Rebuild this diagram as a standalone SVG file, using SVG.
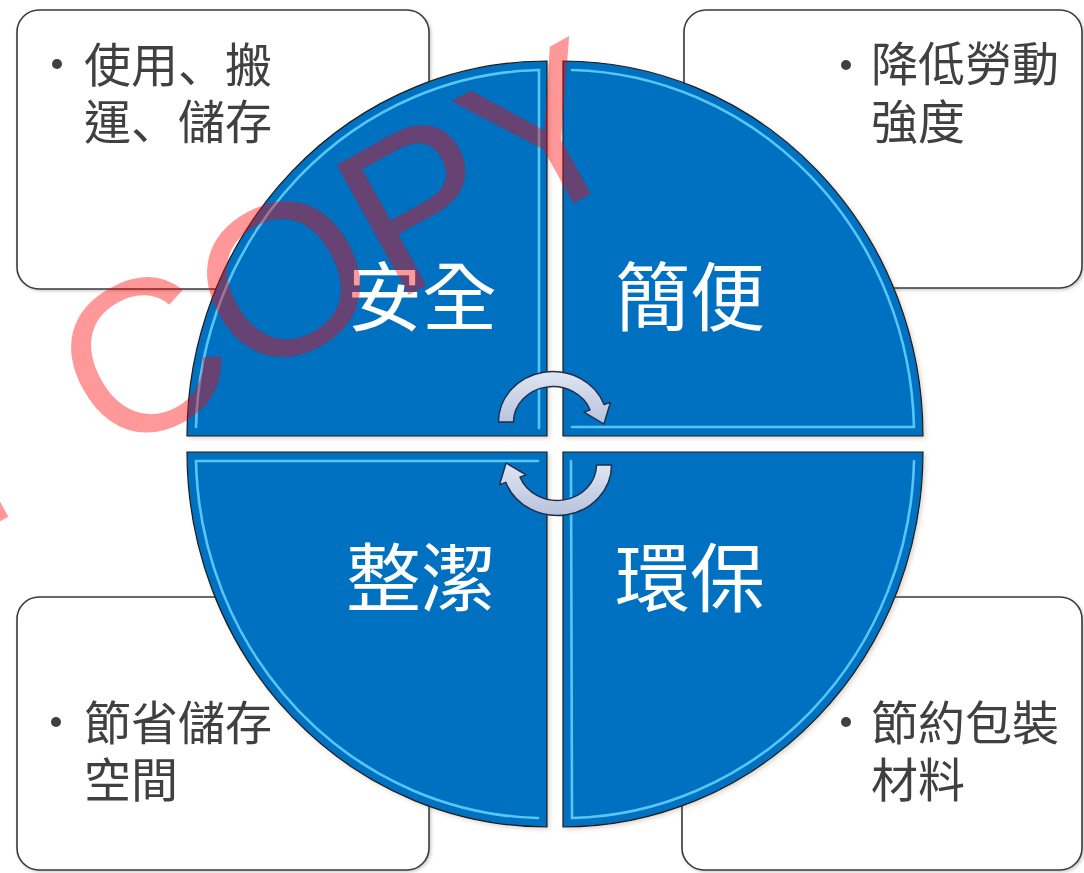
<svg xmlns="http://www.w3.org/2000/svg" width="1084" height="873" viewBox="0 0 1084 873">
  <defs>
    <style>
      .box { fill: #ffffff; stroke: #3a3a3a; stroke-width: 1.6; }
      .btxt { font-family: "Noto Sans CJK TC", "Noto Sans CJK JP", sans-serif; font-size: 47px; fill: #404040; }
      .jp { font-family: "Noto Sans CJK JP", "Noto Sans CJK TC", sans-serif; }
      .dot { fill: #404040; }
      .quad { fill: #0070C0; stroke: #1c1c1c; stroke-width: 1.2; }
      .hl { fill: none; stroke: #5CCBF8; stroke-width: 2.6; stroke-linecap: round; opacity: 0.95; }
      .lbl { font-family: "Noto Sans CJK TC", "Noto Sans CJK JP", sans-serif; font-size: 75px; fill: #ffffff; text-anchor: middle; }
      .arrow { fill: url(#arrowGrad); stroke: #1f2d4a; stroke-width: 1.4; stroke-linejoin: round; }
      .wm { font-family: "Liberation Sans", Arial, sans-serif; font-size: 216px; fill: #ff0000; fill-opacity: 0.4; font-kerning: none; }
    </style>
    <linearGradient id="arrowGrad" x1="0" y1="0" x2="0" y2="1">
      <stop offset="0" stop-color="#dfe5f2"/>
      <stop offset="1" stop-color="#b7c3dd"/>
    </linearGradient>
    <filter id="shadow" x="-10%" y="-10%" width="120%" height="120%">
      <feDropShadow dx="2" dy="2" stdDeviation="2" flood-color="#7a5a3a" flood-opacity="0.25"/>
    </filter>
    <filter id="boxShadow" x="-5%" y="-5%" width="110%" height="110%">
      <feDropShadow dx="1.5" dy="1.5" stdDeviation="1.5" flood-color="#000" flood-opacity="0.2"/>
    </filter>
  </defs>

  <rect width="1084" height="873" fill="#ffffff"/>

  <!-- Text boxes -->
  <g id="box-top-left" filter="url(#boxShadow)">
    <rect class="box" x="17" y="10" width="412" height="279" rx="22"/>
    <circle class="dot" cx="57" cy="64" r="5"/>
    <text class="btxt" x="84" y="82">使用<tspan class="jp">、</tspan>搬</text>
    <text class="btxt" x="84" y="139">運<tspan class="jp">、</tspan>儲存</text>
  </g>
  <g id="box-top-right" filter="url(#boxShadow)">
    <rect class="box" x="684" y="10" width="398" height="278" rx="22"/>
    <circle class="dot" cx="846" cy="65" r="5"/>
    <text class="btxt" x="871" y="81">降低勞動</text>
    <text class="btxt" x="871" y="139">強度</text>
  </g>
  <g id="box-bottom-left" filter="url(#boxShadow)">
    <rect class="box" x="17" y="597" width="412" height="273" rx="22"/>
    <circle class="dot" cx="56" cy="722" r="5"/>
    <text class="btxt" x="84" y="740">節省儲存</text>
    <text class="btxt" x="84" y="797">空間</text>
  </g>
  <g id="box-bottom-right" filter="url(#boxShadow)">
    <rect class="box" x="682" y="597" width="400" height="273" rx="22"/>
    <circle class="dot" cx="846" cy="722" r="5"/>
    <text class="btxt" x="871" y="740">節約包裝</text>
    <text class="btxt" x="871" y="797">材料</text>
  </g>

  <!-- Quadrants -->
  <g id="quad-safety" filter="url(#shadow)">
    <path class="quad" d="M547,436 L187,436 A360,375 0 0 1 547,61 Z"/>
    <path class="hl" d="M196,427 A351,366 0 0 1 539,70 L539,428"/>
    <text class="lbl" x="422" y="325">安全</text>
  </g>
  <g id="quad-simple" filter="url(#shadow)">
    <path class="quad" d="M563,436 L563,61 A360,375 0 0 1 923,436 Z"/>
    <path class="hl" d="M572,70 A351,366 0 0 1 914,427 L572,427"/>
    <text class="lbl" x="690" y="325">簡便</text>
  </g>
  <g id="quad-eco" filter="url(#shadow)">
    <path class="quad" d="M563,452 L923,452 A360,375 0 0 1 563,827 Z"/>
    <path class="hl" d="M914,461 A351,366 0 0 1 572,818 L571,461"/>
    <text class="lbl" x="690" y="606">環保</text>
  </g>
  <g id="quad-clean" filter="url(#shadow)">
    <path class="quad" d="M547,452 L547,827 A360,375 0 0 1 187,452 Z"/>
    <path class="hl" d="M538,818 A351,366 0 0 1 196,461 L538,461"/>
    <text class="lbl" x="421" y="606">整潔</text>
  </g>

  <!-- Cycle arrows -->
  <g id="connectors">
    <path class="arrow" d="M498.5,422 A54.5,50.5 0 0 1 604.2,404.7 L610.4,402.4 L603.9,424 L584,412.2 L590.1,409.9 A39.5,35.5 0 0 0 513.5,422 Z"/>
    <path class="arrow" d="M611.5,465 A54.5,50.5 0 0 1 505.8,482.3 L499.6,484.6 L506.1,463 L526,474.8 L519.9,477.1 A39.5,35.5 0 0 0 596.5,465 Z"/>
  </g>

  <!-- Watermark -->
  <g id="watermark">
    <text class="wm" transform="translate(110 460.5) rotate(-29)" x="-900" y="0">DO NOT COPY</text>
  </g>
</svg>
